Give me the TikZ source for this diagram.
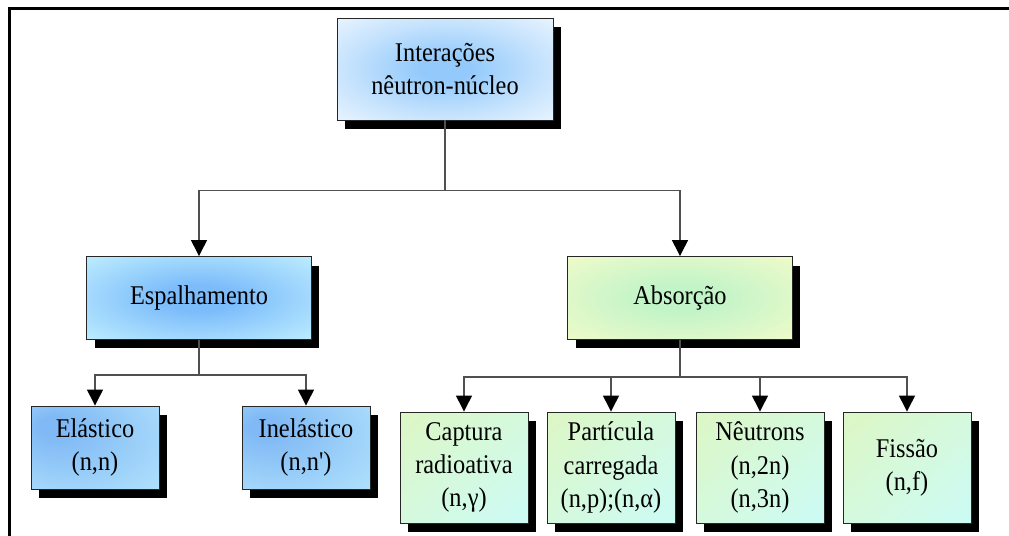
\documentclass[tikz,border=0pt]{standalone}
\usepackage{fontspec}
\setmainfont{Liberation Serif}[FakeStretch=0.9, Ligatures=TeXOff]
\usepackage{xcolor}
\usepackage{tikz}
\usetikzlibrary{shadows,shadings,arrows.meta}

\definecolor{azulc}{HTML}{94CAFB}
\definecolor{azulb}{HTML}{F4FAFF}
\definecolor{azulm}{HTML}{7CBCFB}
\definecolor{ciano}{HTML}{CCF8FF}
\definecolor{azulf}{HTML}{80B9F5}
\definecolor{cianof}{HTML}{C6F4FF}
\definecolor{verdec}{HTML}{C2F4C8}
\definecolor{amarelo}{HTML}{FAFCCA}
\definecolor{verdeam}{HTML}{DDF7C4}
\definecolor{cianov}{HTML}{CCFBF6}
\definecolor{linha}{HTML}{505050}

\pgfdeclareradialshading{raiz}{\pgfpoint{0bp}{0bp}}{color(0bp)=(azulc); color(6bp)=(azulc); color(22bp)=(azulc!50!azulb); color(40bp)=(azulb); color(50bp)=(azulb)}
\pgfdeclareradialshading{espalha}{\pgfpoint{0bp}{0bp}}{color(0bp)=(azulm); color(8bp)=(azulm); color(42bp)=(ciano); color(50bp)=(ciano)}
\pgfdeclareradialshading{absorve}{\pgfpoint{0bp}{0bp}}{color(0bp)=(verdec); color(8bp)=(verdec); color(42bp)=(amarelo); color(50bp)=(amarelo)}
\pgfdeclareradialshading{tipo}{\pgfpoint{-18bp}{14bp}}{color(0bp)=(azulf); color(6bp)=(azulf); color(60bp)=(cianof)}

\begin{document}
\begin{tikzpicture}[x=0.02cm, y=-0.02cm,
    font=\fontsize{15.4pt}{18.8pt}\selectfont,
    caixa/.style={rectangle, draw=black!85, line width=0.5pt, align=center, inner sep=0pt,
        drop shadow={shadow xshift=0.16cm, shadow yshift=-0.18cm, fill=black, opacity=1}},
    reacao/.style={caixa, minimum width=2.56cm, minimum height=2.22cm,
        upper left=verdeam, upper right=verdeam!50!cianov, lower left=verdeam!50!cianov, lower right=cianov},
    seta/.style={draw=linha, line width=0.7pt, -{Triangle[width=0.32cm, length=0.32cm, color=black]}}]
    \useasboundingbox (0,0) rectangle (1009,536);
    \draw[line width=0.06cm] (9.5,536) -- (9.5,8.5) -- (1009,8.5);

    \node (interacoes) [caixa, minimum width=4.32cm, minimum height=2.04cm, shading=raiz] at (445,69) {Interações\\nêutron-núcleo};

    \node (espalhamento) [caixa, minimum width=4.5cm, minimum height=1.66cm, shading=espalha] at (199,298) {Espalhamento};
    \node (absorcao) [caixa, minimum width=4.5cm, minimum height=1.66cm, shading=absorve] at (680,298) {Absorção};

    \node (elastico) [caixa, minimum width=2.56cm, minimum height=1.66cm, shading=tipo] at (95,447.5) {Elástico\\(n,n)};
    \node (inelastico) [caixa, minimum width=2.56cm, minimum height=1.66cm, shading=tipo] at (306,447.5) {Inelástico\\(n,n')};

    \node (captura) [reacao] at (464,467.5) {Captura\\radioativa\\(n,γ)};
    \node (particula) [reacao] at (611,467.5) {Partícula\\carregada\\(n,p);(n,α)};
    \node (neutrons) [reacao] at (760,467.5) {Nêutrons\\(n,2n)\\(n,3n)};
    \node (fissao) [reacao] at (907,467.5) {Fissão\\(n,f)};

    \draw[seta] (interacoes.south) -- ++(0,70) -| (espalhamento.north);
    \draw[seta] (interacoes.south) -- ++(0,70) -| (absorcao.north);
    \draw[seta] (espalhamento.south) -- ++(0,35) -| (elastico.north);
    \draw[seta] (espalhamento.south) -- ++(0,35) -| (inelastico.north);
    \draw[seta] (absorcao.south) -- ++(0,37) -| (captura.north);
    \draw[seta] (absorcao.south) -- ++(0,37) -| (particula.north);
    \draw[seta] (absorcao.south) -- ++(0,37) -| (neutrons.north);
    \draw[seta] (absorcao.south) -- ++(0,37) -| (fissao.north);
\end{tikzpicture}
\end{document}
